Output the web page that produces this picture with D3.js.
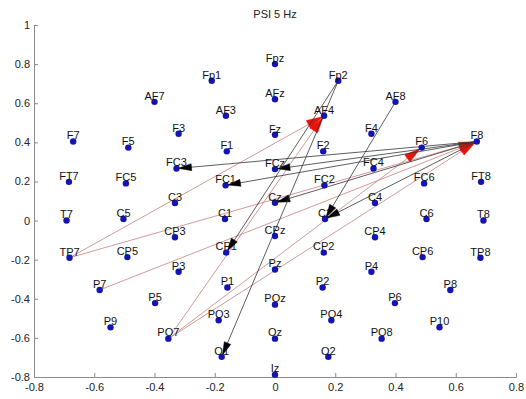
<!DOCTYPE html>
<html>
<head>
<meta charset="utf-8">
<script src="https://cdn.jsdelivr.net/npm/d3@7"></script>
<style>
  html, body { margin: 0; padding: 0; background: #fff; }
  svg { display: block; }
  text { font-family: "Liberation Sans", Arial, sans-serif; }
</style>
</head>
<body>
<svg id="chart" width="526" height="399"></svg>
<script>
// ---- data ----
const title = "PSI 5 Hz";
const electrodes = ["Fp1","Fpz","Fp2","AF7","AF3","AFz","AF4","AF8",
  "F7","F5","F3","F1","Fz","F2","F4","F6","F8",
  "FT7","FC5","FC3","FC1","FCz","FC2","FC4","FC6","FT8",
  "T7","C5","C3","C1","Cz","C2","C4","C6","T8",
  "TP7","CP5","CP3","CP1","CPz","CP2","CP4","CP6","TP8",
  "P9","P7","P5","P3","P1","Pz","P2","P4","P6","P8","P10",
  "PO7","PO3","POz","PO4","PO8","O1","Oz","O2","Iz"];
const ex = [-0.21,0,0.21,-0.40,-0.163,0,0.163,0.40,
  -0.67,-0.487,-0.32,-0.16,0,0.16,0.32,0.487,0.67,
  -0.684,-0.495,-0.327,-0.164,0,0.164,0.327,0.495,0.684,
  -0.692,-0.503,-0.332,-0.166,0,0.166,0.332,0.503,0.692,
  -0.682,-0.49,-0.332,-0.162,0,0.162,0.332,0.49,0.682,
  -0.546,-0.582,-0.398,-0.32,-0.158,0,0.158,0.32,0.398,0.582,0.546,
  -0.354,-0.187,0,0.187,0.354,-0.177,0,0.177,0];
const ey = [0.715,0.8,0.715,0.607,0.536,0.62,0.536,0.607,
  0.404,0.373,0.444,0.354,0.439,0.354,0.444,0.373,0.404,
  0.198,0.19,0.266,0.18,0.263,0.18,0.266,0.19,0.198,
  0,0.008,0.09,0.008,0.091,0.008,0.09,0.008,0,
  -0.19,-0.187,-0.085,-0.164,-0.079,-0.164,-0.085,-0.187,-0.19,
  -0.546,-0.355,-0.422,-0.262,-0.342,-0.25,-0.342,-0.262,-0.422,-0.355,-0.546,
  -0.604,-0.51,-0.43,-0.51,-0.604,-0.697,-0.604,-0.697,-0.788];
// directed connections: [source, target]
const redLinks = [["TP7","AF4"],["PO7","AF4"],["TP7","F8"],["P7","F8"],["PO7","F8"],["PO7","F6"]];
const blackLinks = [["F8","FC3"],["F8","FC1"],["F8","FCz"],["F8","Cz"],["F8","C2"],["AF8","C2"],["Fp2","CP1"],["Fp2","O1"]];
const xTicks = [-0.8,-0.6,-0.4,-0.2,0,0.2,0.4,0.6,0.8];
const yTicks = [-0.8,-0.6,-0.4,-0.2,0,0.2,0.4,0.6,0.8,1];

// ---- drawing ----
const svg = d3.select("#chart");
const x = d3.scaleLinear().domain([-0.8,0.8]).range([34,516]);
const y = d3.scaleLinear().domain([-0.8,1]).range([377,25]);
const pos = {};
electrodes.forEach((n,i)=>{ pos[n] = [x(ex[i]), y(ey[i])]; });

const fmt = d => (d === 0 ? "0" : String(d));
const axColor = "#8a8a8a";

const xAxis = svg.append("g").attr("transform","translate(0,377)")
  .call(d3.axisBottom(x).tickValues(xTicks).tickFormat(fmt).tickSizeInner(-4).tickSizeOuter(0).tickPadding(6));
const yAxis = svg.append("g").attr("transform","translate(34,0)")
  .call(d3.axisLeft(y).tickValues(yTicks).tickFormat(fmt).tickSizeInner(-4).tickSizeOuter(0).tickPadding(4));
[xAxis,yAxis].forEach(g=>{
  g.selectAll("path,line").attr("stroke",axColor);
  g.selectAll("text").attr("fill","#222").style("font-size","11px").style("font-family",'"Liberation Sans", Arial, sans-serif');
});

svg.append("text").attr("x",275).attr("y",18).attr("text-anchor","middle")
  .style("font-size","11px").attr("fill","#222").text(title);

function drawLinks(links, lineColor, headColor, len, hw){
  const g = svg.append("g");
  links.forEach(([s,t])=>{
    const [x1,y1] = pos[s], [x2,y2] = pos[t];
    const dx = x2-x1, dy = y2-y1, L = Math.hypot(dx,dy);
    const ux = dx/L, uy = dy/L;
    const tx = x2-ux*2, ty = y2-uy*2;
    g.append("line").attr("x1",x1).attr("y1",y1).attr("x2",tx).attr("y2",ty)
      .attr("stroke",lineColor).attr("stroke-width",0.8);
    const bx = tx-ux*len, by = ty-uy*len;
    const px = -uy*hw, py = ux*hw;
    g.append("path").attr("d",`M${tx},${ty}L${bx+px},${by+py}L${bx-px},${by-py}Z`)
      .attr("fill",headColor).attr("stroke",headColor).attr("stroke-width",0.5);
  });
}
drawLinks(redLinks, "#c98080", "#e8140c", 16, 4.5);
drawLinks(blackLinks, "#333333", "#000000", 13, 3.5);

const dots = svg.append("g");
electrodes.forEach(n=>{
  dots.append("circle").attr("cx",pos[n][0]).attr("cy",pos[n][1]).attr("r",3.2).attr("fill","#1414b0");
});
const labels = svg.append("g");
electrodes.forEach(n=>{
  labels.append("text").attr("x",pos[n][0]).attr("y",pos[n][1]-2.2).attr("text-anchor","middle")
    .style("font-size","11px").attr("fill","#111").text(n);
});
</script>
</body>
</html>
